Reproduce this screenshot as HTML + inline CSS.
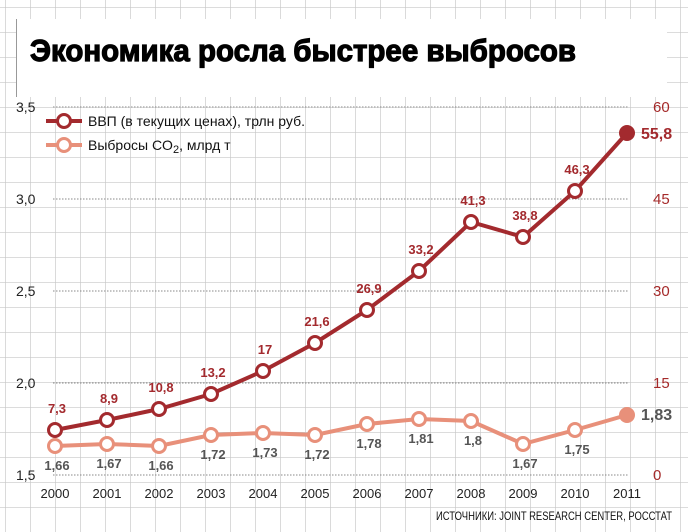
<!DOCTYPE html>
<html><head><meta charset="utf-8"><style>
body{margin:0;background:#fff}
svg{display:block}
</style></head><body>
<svg width="688" height="532" viewBox="0 0 688 532" xmlns="http://www.w3.org/2000/svg" font-family="Liberation Sans, sans-serif">
<defs>
<pattern id="g" width="25" height="25" patternUnits="userSpaceOnUse" x="5" y="7">
<path d="M0 0H25M0 0V25" stroke="#c6c6c6" stroke-width="1.3" fill="none"/>
</pattern>
</defs>
<rect width="688" height="532" fill="#fff"/>
<rect width="688" height="532" fill="url(#g)"/>
<rect x="16" y="19" width="651" height="78" fill="#fff"/>
<line x1="16.5" y1="19" x2="16.5" y2="97" stroke="#999"/>
<text x="30" y="61" font-size="31" font-weight="bold" fill="#000" stroke="#000" stroke-width="1.2" textLength="546" lengthAdjust="spacingAndGlyphs">Экономика росла быстрее выбросов</text>
<g stroke="#888" stroke-dasharray="1.5,1.5" stroke-width="1">
<line x1="53" y1="107" x2="628" y2="107"/>
<line x1="53" y1="199" x2="628" y2="199"/>
<line x1="53" y1="291" x2="628" y2="291"/>
<line x1="53" y1="383" x2="628" y2="383"/>
<line x1="53" y1="475" x2="628" y2="475"/>
</g>
<g font-size="14" fill="#222">
<text x="16" y="112">3,5</text><text x="16" y="204">3,0</text><text x="16" y="296">2,5</text><text x="16" y="388">2,0</text><text x="16" y="480">1,5</text>
</g>
<g font-size="15" fill="#a52a2a">
<text x="653" y="112">60</text><text x="653" y="204">45</text><text x="653" y="296">30</text><text x="653" y="388">15</text><text x="653" y="480">0</text>
</g>
<g font-size="13" fill="#222" text-anchor="middle">
<text x="55" y="498">2000</text><text x="107" y="498">2001</text><text x="159" y="498">2002</text><text x="211" y="498">2003</text><text x="263" y="498">2004</text><text x="315" y="498">2005</text><text x="367" y="498">2006</text><text x="419" y="498">2007</text><text x="471" y="498">2008</text><text x="523" y="498">2009</text><text x="575" y="498">2010</text><text x="627" y="498">2011</text>
</g>
<text x="672" y="520" font-size="12" fill="#111" text-anchor="end" textLength="236" lengthAdjust="spacingAndGlyphs">ИСТОЧНИКИ: JOINT RESEARCH CENTER, РОССТАТ</text>
<line x1="46" y1="121" x2="82" y2="121" stroke="#a32a2e" stroke-width="4"/>
<circle cx="64" cy="121" r="6.5" fill="#fff" stroke="#a32a2e" stroke-width="3"/>
<text x="88" y="126" font-size="14" fill="#111">ВВП (в текущих ценах), трлн руб.</text>
<line x1="46" y1="145" x2="82" y2="145" stroke="#e8907a" stroke-width="4"/>
<circle cx="64" cy="145" r="6.5" fill="#fff" stroke="#e8907a" stroke-width="3"/>
<text x="88" y="150" font-size="14" fill="#111">Выбросы CO<tspan font-size="11" dy="3">2</tspan><tspan dy="-3">, млрд т</tspan></text>
<polyline fill="none" stroke="#e8907a" stroke-width="4" points="55,446 107,444 159,446 211,435 263,433 315,435 367,424 419,419 471,421 523,444 575,430"/>
<line x1="575" y1="430" x2="627" y2="415" stroke="#e8907a" stroke-width="4"/>
<g fill="#fff" stroke="#e8907a" stroke-width="3">
<circle cx="55" cy="446" r="6.5"/><circle cx="107" cy="444" r="6.5"/><circle cx="159" cy="446" r="6.5"/><circle cx="211" cy="435" r="6.5"/><circle cx="263" cy="433" r="6.5"/><circle cx="315" cy="435" r="6.5"/><circle cx="367" cy="424" r="6.5"/><circle cx="419" cy="419" r="6.5"/><circle cx="471" cy="421" r="6.5"/><circle cx="523" cy="444" r="6.5"/><circle cx="575" cy="430" r="6.5"/>
</g>
<circle cx="627" cy="415" r="8" fill="#e8907a"/>
<g font-size="13" font-weight="bold" fill="#555" text-anchor="middle">
<text x="57" y="470">1,66</text><text x="109" y="468">1,67</text><text x="161" y="470">1,66</text><text x="213" y="459">1,72</text><text x="265" y="457">1,73</text><text x="317" y="459">1,72</text><text x="369" y="448">1,78</text><text x="421" y="443">1,81</text><text x="473" y="445">1,8</text><text x="525" y="468">1,67</text><text x="577" y="454">1,75</text>
</g>
<text x="641" y="420" font-size="16" font-weight="bold" fill="#555">1,83</text>
<polyline fill="none" stroke="#a32a2e" stroke-width="4" points="55,430 107,420 159,409 211,394 263,371 315,343 367,310 419,271 471,222 523,237 575,191 627,133"/>
<g fill="#fff" stroke="#a32a2e" stroke-width="3">
<circle cx="55" cy="430" r="6.5"/><circle cx="107" cy="420" r="6.5"/><circle cx="159" cy="409" r="6.5"/><circle cx="211" cy="394" r="6.5"/><circle cx="263" cy="371" r="6.5"/><circle cx="315" cy="343" r="6.5"/><circle cx="367" cy="310" r="6.5"/><circle cx="419" cy="271" r="6.5"/><circle cx="471" cy="222" r="6.5"/><circle cx="523" cy="237" r="6.5"/><circle cx="575" cy="191" r="6.5"/>
</g>
<circle cx="627" cy="133" r="8" fill="#a32a2e"/>
<g font-size="13" font-weight="bold" fill="#a32a2e" text-anchor="middle">
<text x="57" y="413">7,3</text><text x="109" y="403">8,9</text><text x="161" y="392">10,8</text><text x="213" y="377">13,2</text><text x="265" y="354">17</text><text x="317" y="326">21,6</text><text x="369" y="293">26,9</text><text x="421" y="254">33,2</text><text x="473" y="205">41,3</text><text x="525" y="220">38,8</text><text x="577" y="174">46,3</text>
</g>
<text x="641" y="139" font-size="16" font-weight="bold" fill="#a32a2e">55,8</text>
</svg>
</body></html>
